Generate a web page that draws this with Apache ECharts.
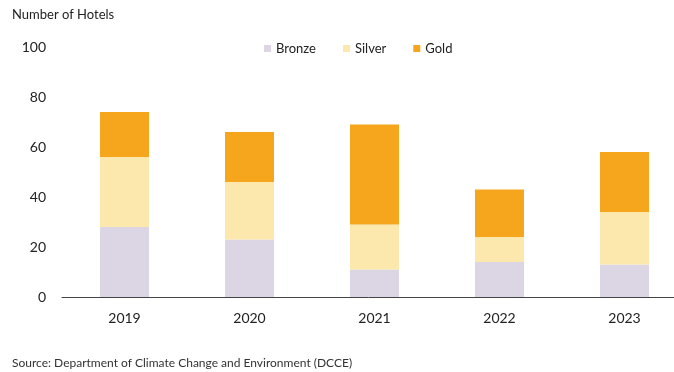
<!DOCTYPE html>
<html>
<head>
<meta charset="utf-8">
<script src="https://cdn.jsdelivr.net/npm/echarts@6/dist/echarts.min.js"></script>
<style>
  html, body { margin: 0; padding: 0; background: #fff; }
  #chart { width: 674px; height: 372px; }
</style>
</head>
<body>
<div id="chart"></div>
<script>
// Hotel certifications by level, per year
const years = ['2019', '2020', '2021', '2022', '2023'];
const bronze = [28, 23, 11, 14, 13];
const silver = [28, 23, 18, 10, 21];
const gold = [18, 20, 40, 19, 24];
const yTicks = [0, 20, 40, 60, 80, 100];

const FONT = 'Lato, "Open Sans", sans-serif';
const colors = { Bronze: '#dcd5e4', Silver: '#fce8ad', Gold: '#f5a61d' };

const chart = echarts.init(document.getElementById('chart'), null, { renderer: 'canvas' });

function barSeries(name, data) {
  return {
    name: name,
    type: 'bar',
    stack: 'total',
    data: data,
    barWidth: 49,
    itemStyle: { color: colors[name] },
    emphasis: { disabled: true }
  };
}

chart.setOption({
  animation: false,
  textStyle: { fontFamily: FONT },
  graphic: [
    {
      type: 'text', left: 12, top: 8,
      style: { text: 'Number of Hotels', font: '13px ' + FONT, fill: '#222' }
    },
    {
      type: 'text', left: 12, top: 357,
      style: { text: 'Source: Department of Climate Change and Environment (DCCE)', font: '12px ' + FONT, fill: '#333' }
    }
  ],
  legend: {
    top: 37,
    left: 259,
    itemWidth: 7,
    itemHeight: 7,
    itemGap: 27,
    icon: 'rect',
    textStyle: { fontSize: 13, color: '#222', fontFamily: FONT },
    data: ['Bronze', 'Silver', 'Gold']
  },
  grid: {
    left: 62, top: 47, right: -13, height: 250,
    containLabel: false,
    outerBoundsMode: 'none'
  },
  xAxis: {
    type: 'category',
    data: years,
    axisLine: { lineStyle: { color: '#444', width: 1 } },
    axisTick: { show: false },
    axisLabel: { fontSize: 14, color: '#222', margin: 14, fontFamily: FONT }
  },
  yAxis: {
    type: 'value',
    min: yTicks[0],
    max: yTicks[yTicks.length - 1],
    interval: yTicks[1] - yTicks[0],
    splitLine: { show: false },
    axisLine: { show: false },
    axisTick: { show: false },
    axisLabel: { fontSize: 14, color: '#222', margin: 16, fontFamily: FONT }
  },
  series: [
    barSeries('Bronze', bronze),
    barSeries('Silver', silver),
    barSeries('Gold', gold)
  ]
});
</script>
</body>
</html>
